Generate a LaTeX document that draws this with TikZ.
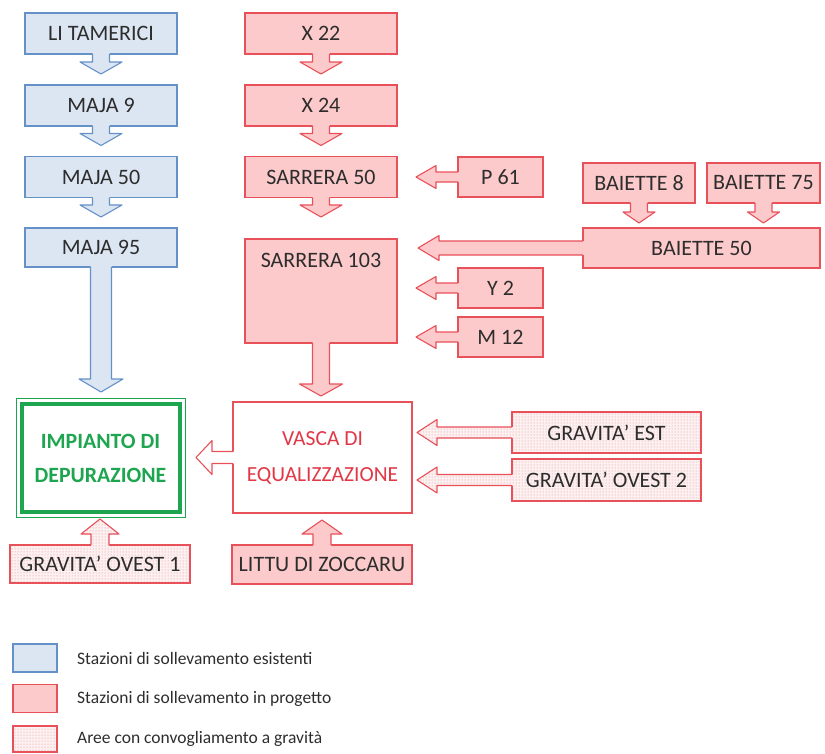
\documentclass[tikz,border=0pt]{standalone}
\usepackage{fontspec}
\setmainfont{Carlito}
\usetikzlibrary{calc,patterns,positioning}

\definecolor{bluefill}{RGB}{220,230,242}
\definecolor{blueline}{RGB}{100,145,200}
\definecolor{redfill}{RGB}{253,202,203}
\definecolor{redline}{RGB}{232,80,90}
\definecolor{gravbg}{RGB}{253,240,240}
\definecolor{gravdot}{RGB}{222,135,140}
\definecolor{plantgreen}{RGB}{30,165,80}
\definecolor{labelgray}{RGB}{45,45,45}
\definecolor{vascared}{RGB}{225,55,70}

\tikzset{
  existing fill/.style={fill=bluefill},
  existing edge/.style={draw=blueline, line width=1.1pt},
  existing/.style={existing fill, existing edge},
  planned fill/.style={fill=redfill},
  planned edge/.style={draw=redline, line width=1.1pt},
  planned/.style={planned fill, planned edge},
  tank fill/.style={fill=white},
  tank edge/.style={draw=redline, line width=1.1pt},
  gravity fill/.style={preaction={fill=gravbg}, pattern=dots, pattern color=gravdot},
  gravity edge/.style={draw=redline, line width=1.1pt},
  gravity/.style={gravity fill, gravity edge},
  station/.style={inner sep=0pt, outer sep=0pt, text=labelgray,
    font=\fontsize{22}{24}\selectfont, minimum height=41pt},
  legendbox/.style={minimum width=44pt, minimum height=28pt, inner sep=0pt, outer sep=0pt},
  legendtext/.style={anchor=west, text=labelgray, font=\fontsize{17.5}{20}\selectfont, inner sep=0pt}
}

% block arrow: kind, from, to, half shaft, half head, head length
\newcommand{\blockarrow}[6]{%
  \coordinate (ba-s) at #2;
  \coordinate (ba-e) at #3;
  \coordinate (ba-h) at ($(ba-e)!#6!(ba-s)$);
  \coordinate (ba-b) at ($(ba-s)!-2pt!(ba-e)$);
  \path[#1 fill] ($(ba-b)!#4!90:(ba-e)$) -- ($(ba-h)!#4!90:(ba-e)$)
    -- ($(ba-h)!#5!90:(ba-e)$) -- (ba-e) -- ($(ba-h)!#5!-90:(ba-e)$)
    -- ($(ba-h)!#4!-90:(ba-e)$) -- ($(ba-b)!#4!-90:(ba-e)$) -- cycle;
  \draw[#1 edge, line join=round] ($(ba-s)!#4!90:(ba-e)$) -- ($(ba-h)!#4!90:(ba-e)$)
    -- ($(ba-h)!#5!90:(ba-e)$) -- (ba-e) -- ($(ba-h)!#5!-90:(ba-e)$)
    -- ($(ba-h)!#4!-90:(ba-e)$) -- ($(ba-s)!#4!-90:(ba-e)$);
}

\begin{document}
\begin{tikzpicture}[x=1pt, y=-1pt]
    \useasboundingbox (0,0) rectangle (825,753);

    % existing stations
    \node[station, existing, minimum width=152pt] (li) at (101,33.5) {LI TAMERICI};
    \node[station, existing, minimum width=152pt] (maja9) at (101,105.5) {MAJA 9};
    \node[station, existing, minimum width=152pt] (maja50) at (101,177) {MAJA 50};
    \node[station, existing, minimum width=152pt, minimum height=39pt] (maja95) at (101,247.5) {MAJA 95};

    % planned stations, main line
    \node[station, planned, minimum width=152pt] (x22) at (321,33.5) {X 22};
    \node[station, planned, minimum width=152pt] (x24) at (321,105.5) {X 24};
    \node[station, planned, minimum width=152pt] (sar50) at (321,177) {SARRERA 50};
    \node[station, planned, minimum width=152pt, text height=28pt, text depth=76pt,
      anchor=north] (sar103) at (321,239) {SARRERA 103};

    % side stations
    \node[station, planned, minimum width=85pt, minimum height=40pt] (p61) at (500.5,177) {P 61};
    \node[station, planned, minimum width=85pt, minimum height=40pt] (y2) at (500.5,288) {Y 2};
    \node[station, planned, minimum width=85pt, minimum height=40pt] (m12) at (500.5,337) {M 12};
    \node[station, planned, minimum width=112pt, minimum height=40pt] (bai8) at (639,183) {BAIETTE 8};
    \node[station, planned, minimum width=113pt, minimum height=40pt] (bai75) at (763.5,183) {BAIETTE 75};
    \node[station, planned, minimum width=237pt, minimum height=40pt] (bai50) at (701.5,248) {BAIETTE 50};

    % plant and tank
    \node[inner sep=0pt, outer sep=0pt, draw=plantgreen, line width=4pt, minimum width=158pt,
      minimum height=108pt, text=plantgreen, align=center,
      font=\bfseries\fontsize{21.8}{34}\selectfont] (imp) at (100.5,458) {IMPIANTO DI\\DEPURAZIONE};
    \draw[plantgreen, line width=1pt] ($(imp.north west)+(-5.5,-5.5)$) rectangle ($(imp.south east)+(5.5,5.5)$);
    \node[station, tank fill, tank edge, minimum width=179pt, minimum height=111pt, text=vascared,
      align=center, font=\fontsize{21.5}{36}\selectfont] (vasca) at (322.5,457.5) {VASCA DI\\EQUALIZZAZIONE};

    % gravity areas
    \node[station, gravity, minimum width=189pt] (est) at (606.5,432.5) {GRAVITA’ EST};
    \node[station, gravity, minimum width=189pt, minimum height=42pt] (ovest2) at (606.5,480) {GRAVITA’ OVEST 2};
    \node[station, gravity, minimum width=180pt, minimum height=38pt] (ovest1) at (100,564) {GRAVITA’ OVEST 1};
    \node[station, planned, minimum width=180pt, minimum height=39pt] (littu) at (322,564.5) {LITTU DI ZOCCARU};

    % arrows
    \blockarrow{existing}{(li.south)}{($(maja9.north)+(0,-11)$)}{8.5pt}{21pt}{12pt}
    \blockarrow{existing}{(maja9.south)}{($(maja50.north)+(0,-11)$)}{8.5pt}{21pt}{12pt}
    \blockarrow{existing}{(maja50.south)}{($(maja95.north)+(0,-11)$)}{8.5pt}{21pt}{12pt}
    \blockarrow{existing}{(maja95.south)}{($(maja95.south |- imp.north)+(0,-12)$)}{10.5pt}{22pt}{13pt}

    \blockarrow{planned}{(x22.south)}{($(x24.north)+(0,-11)$)}{8.5pt}{21pt}{12pt}
    \blockarrow{planned}{(x24.south)}{($(sar50.north)+(0,-11)$)}{8.5pt}{21pt}{12pt}
    \blockarrow{planned}{(sar50.south)}{($(sar103.north)+(0,-22)$)}{8.5pt}{21pt}{12pt}
    \blockarrow{planned}{(sar103.south)}{($(sar103.south |- vasca.north)+(0,-6)$)}{8.5pt}{21.5pt}{12pt}

    \blockarrow{planned}{(p61.west)}{($(sar50.east |- p61.west)+(19,0)$)}{5pt}{11.5pt}{20pt}
    \blockarrow{planned}{(bai50.west)}{($(sar103.east |- bai50.west)+(21,0)$)}{7pt}{12.5pt}{21pt}
    \blockarrow{planned}{(y2.west)}{($(sar103.east |- y2.west)+(19,0)$)}{5pt}{11.5pt}{20pt}
    \blockarrow{planned}{(m12.west)}{($(sar103.east |- m12.west)+(19,0)$)}{5pt}{11.5pt}{20pt}
    \blockarrow{planned}{(bai8.south)}{($(bai8.south |- bai50.north)+(0,-5)$)}{8.5pt}{16pt}{11pt}
    \blockarrow{planned}{(bai75.south)}{($(bai75.south |- bai50.north)+(0,-5)$)}{8.5pt}{16pt}{11pt}

    \blockarrow{tank}{(vasca.west)}{($(imp.east |- vasca.west)+(16.5,0)$)}{6pt}{17pt}{16pt}
    \blockarrow{gravity}{(est.west)}{($(vasca.east |- est.west)+(5,0)$)}{5.5pt}{13pt}{20pt}
    \blockarrow{gravity}{(ovest2.west)}{($(vasca.east |- ovest2.west)+(5,0)$)}{5.5pt}{13pt}{20pt}
    \blockarrow{gravity}{(ovest1.north)}{($(ovest1.north |- imp.south)+(0,7)$)}{9pt}{19pt}{15pt}
    \blockarrow{planned}{(littu.north)}{($(littu.north |- vasca.south)+(0,7)$)}{9pt}{20pt}{14pt}

    % legend
    \node[legendbox, existing] (legexist) at (35,658) {};
    \node[legendtext, right=20pt of legexist] (legexisttext) {Stazioni di sollevamento esistenti};
    \node[legendbox, planned] (legplan) at (35,698.5) {};
    \node[legendtext, right=20pt of legplan] (legplantext) {Stazioni di sollevamento in progetto};
    \node[legendbox, gravity, minimum height=26pt] (leggrav) at (35,739) {};
    \node[legendtext, right=20pt of leggrav] (leggravtext) {Aree con convogliamento a gravità};
\end{tikzpicture}
\end{document}
